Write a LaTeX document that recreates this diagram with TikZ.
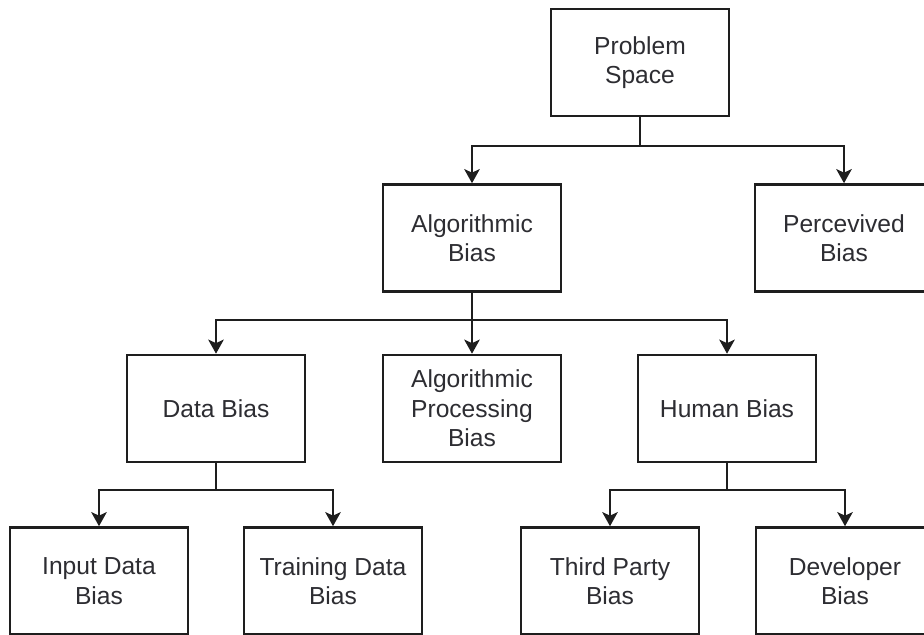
\documentclass[tikz,border=0pt]{standalone}
\usepackage{fontspec}
\setmainfont{Liberation Sans}
\definecolor{inkgray}{RGB}{30, 30, 30}
\definecolor{textgray}{RGB}{45, 45, 50}
\usetikzlibrary{arrows.meta, positioning}

\begin{document}
\begin{tikzpicture}[x=0.025cm, y=-0.025cm,
  biasbox/.style={draw=inkgray, line width=1.7pt, minimum width=4.45cm, minimum height=2.68cm,
    align=center, text=textgray, inner sep=2pt, font=\fontsize{17.5}{21}\selectfont},
  link/.style={draw=inkgray, line width=1.7pt, -{Stealth[length=10pt, width=11pt, inset=2.5pt]}}]
  \useasboundingbox (0,0) rectangle (924,634);
  \clip (0,0) rectangle (924,634);

  % top level
  \node[biasbox] (problem) at (640, 62.5) {Problem\\Space};

  % second level
  \node[biasbox] (algo) at (472, 238) {Algorithmic\\Bias};
  \node[biasbox] (perceived) at (844, 238) {Percevived\\Bias};

  % third level
  \node[biasbox] (data) at (216, 408.5) {Data Bias};
  \node[biasbox] (algproc) at (472, 408.5) {Algorithmic\\Processing\\Bias};
  \node[biasbox] (human) at (727, 408.5) {Human Bias};

  % bottom level
  \node[biasbox] (input) at (99, 581) {Input Data\\Bias};
  \node[biasbox] (training) at (333, 581) {Training Data\\Bias};
  \node[biasbox] (thirdparty) at (610, 581) {Third Party\\Bias};
  \node[biasbox] (developer) at (845, 581) {Developer\\Bias};

  % branch points
  \coordinate (jproblem) at (640, 146);
  \coordinate (jalgo) at (472, 320);
  \coordinate (jdata) at (216, 490);
  \coordinate (jhuman) at (727, 490);

  % connectors
  \draw[inkgray, line width=1.7pt] (problem) -- (jproblem);
  \draw[link] (jproblem) -| (algo.north);
  \draw[link] (jproblem) -| (perceived.north);

  \draw[link] (algo) -- (algproc);
  \draw[link] (jalgo) -| (data.north);
  \draw[link] (jalgo) -| (human.north);

  \draw[inkgray, line width=1.7pt] (data) -- (jdata);
  \draw[link] (jdata) -| (input.north);
  \draw[link] (jdata) -| (training.north);

  \draw[inkgray, line width=1.7pt] (human) -- (jhuman);
  \draw[link] (jhuman) -| (thirdparty.north);
  \draw[link] (jhuman) -| (developer.north);
\end{tikzpicture}
\end{document}
